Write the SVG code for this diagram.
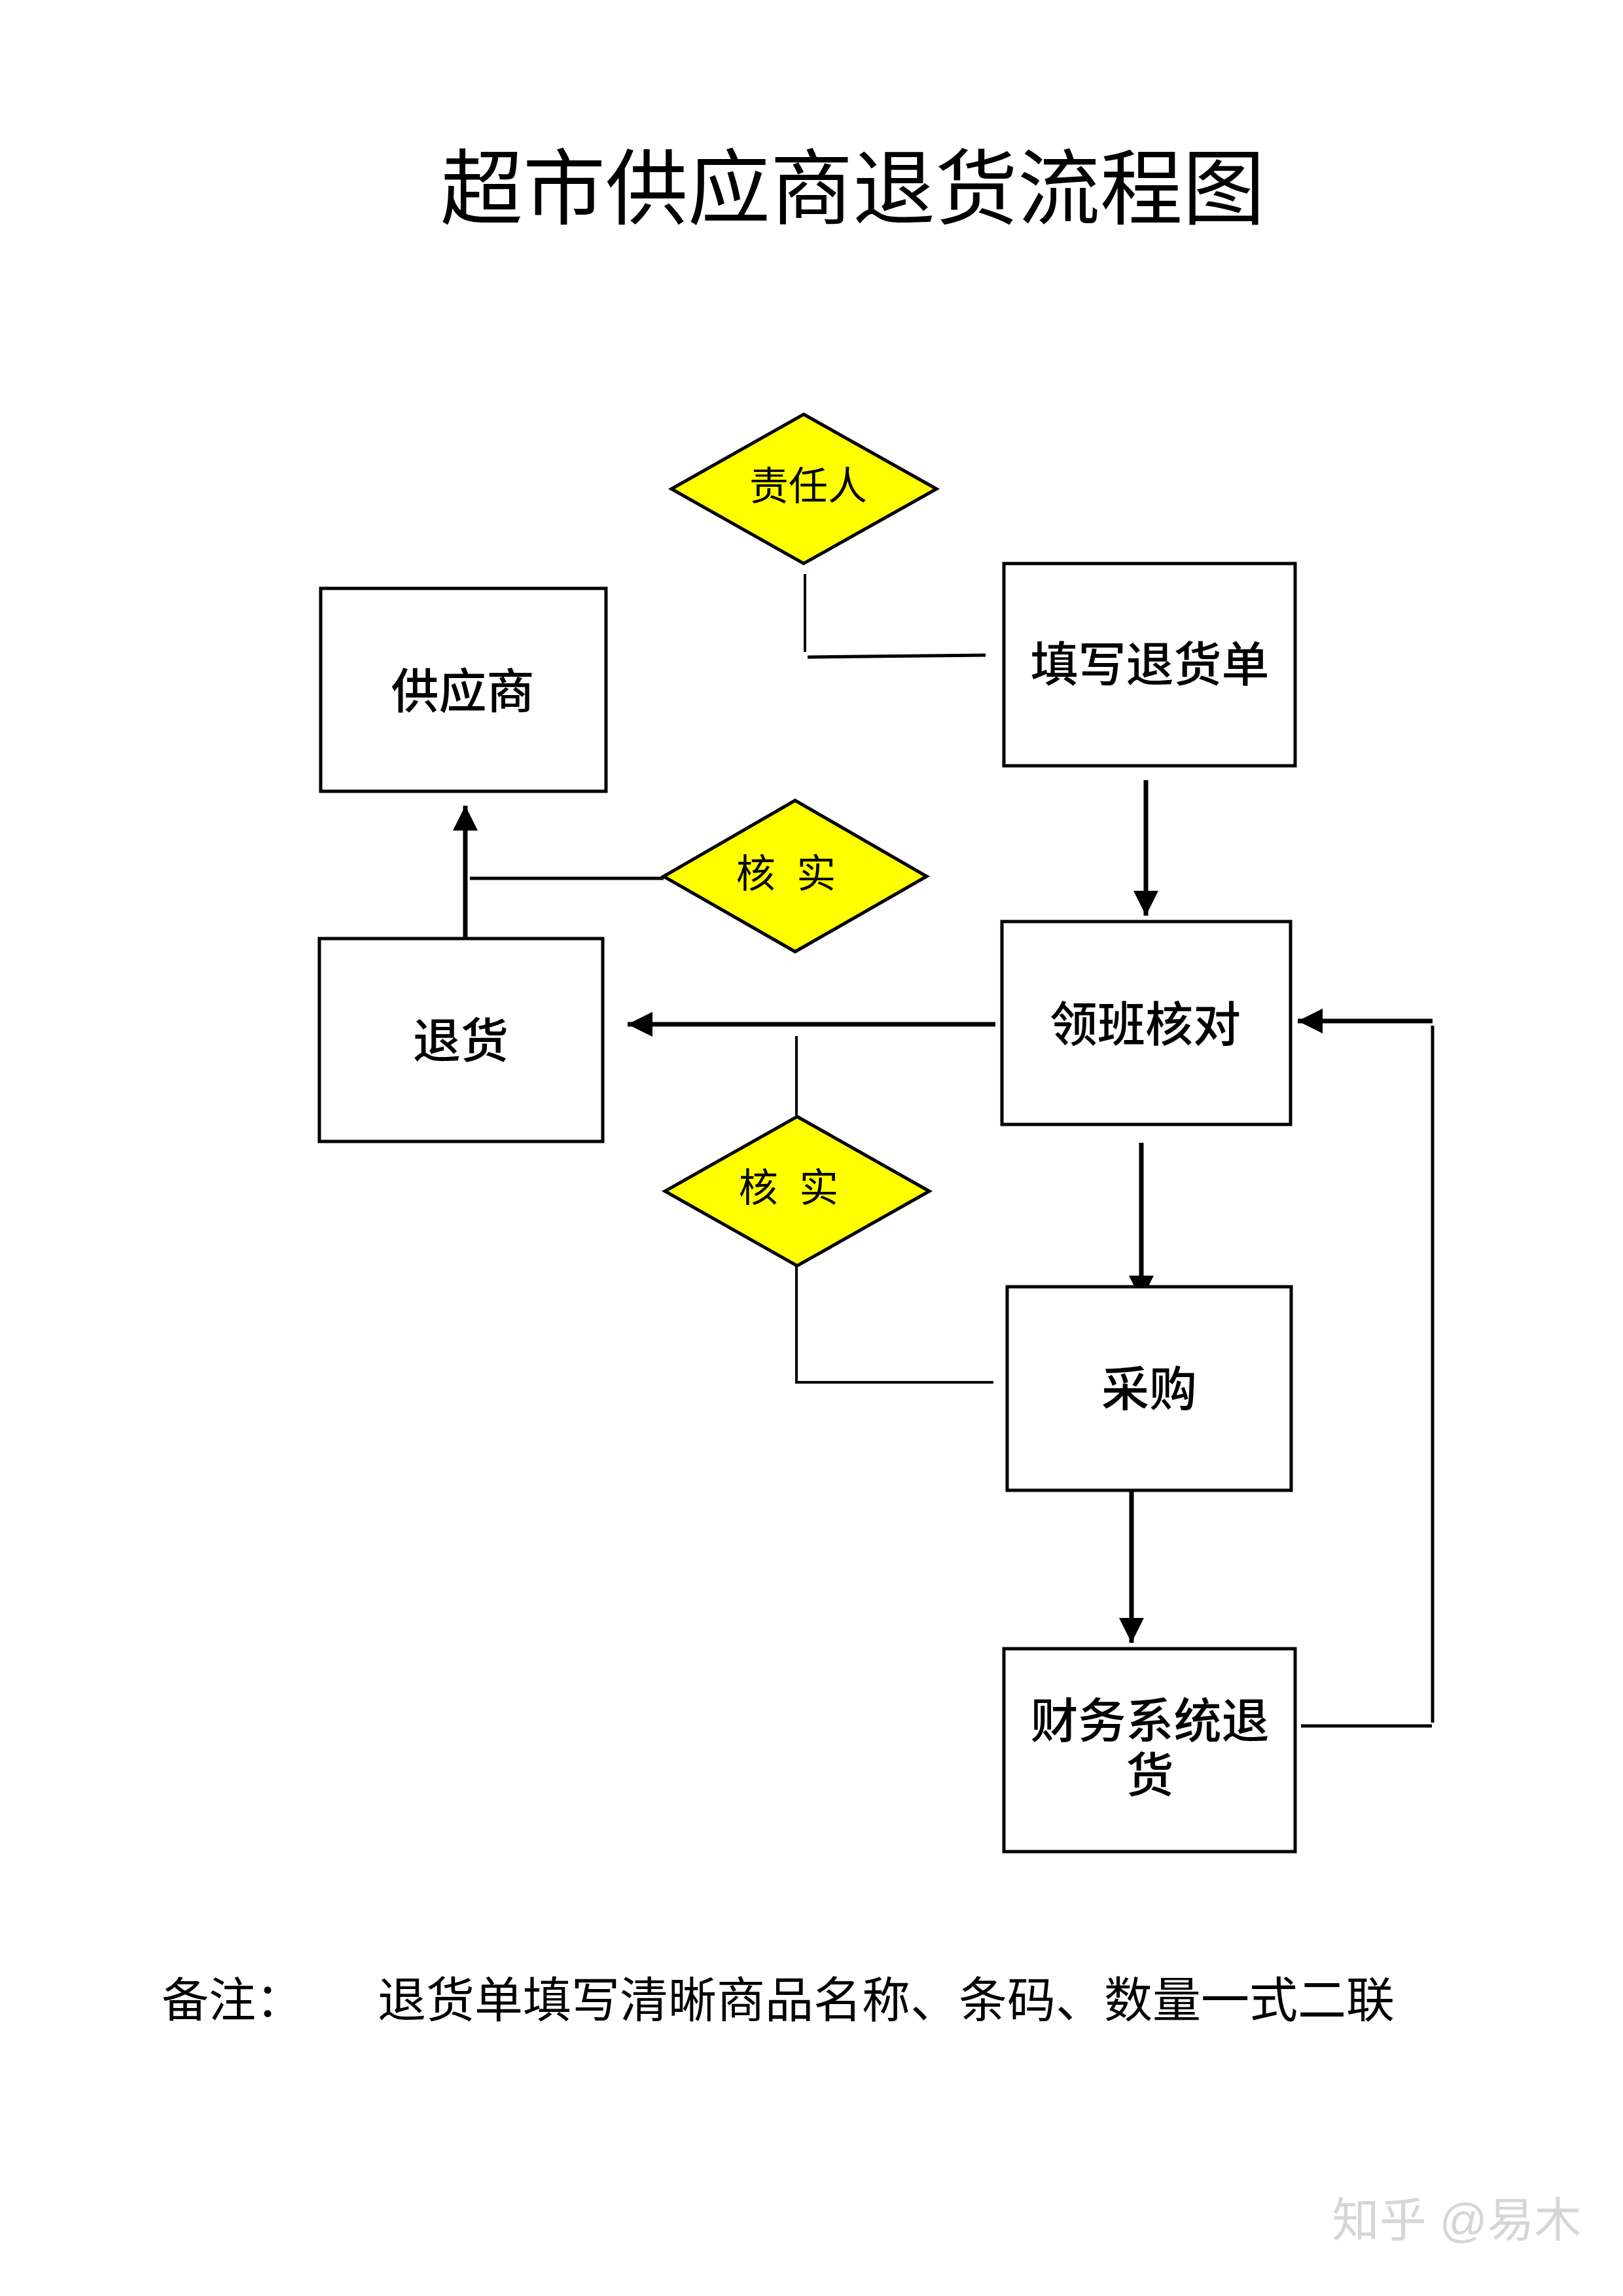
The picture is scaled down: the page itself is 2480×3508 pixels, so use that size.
<svg xmlns="http://www.w3.org/2000/svg" width="2480" height="3508" viewBox="0 0 2480 3508">
<style>
.box{fill:#ffffff;stroke:#000000;stroke-width:5}
.dia{fill:#ffff00;stroke:#000000;stroke-width:5;stroke-linejoin:miter}
.t{font-family:"Liberation Sans","Noto Sans CJK SC",sans-serif;fill:#000000;text-anchor:middle;dominant-baseline:central}
.lbl{font-size:73px;font-weight:500}
.dl{font-size:60px;font-weight:400}
.ln{fill:none;stroke:#000000}
.thin{stroke-width:4}
.mid{stroke-width:5}
.thick{stroke-width:7}
</style>
<defs>
<marker id="ah" viewBox="0 0 10 10" refX="10" refY="5" markerUnits="userSpaceOnUse" markerWidth="38" markerHeight="38" orient="auto">
<path d="M0,0 L10,5 L0,10 Z" fill="#000000"/>
</marker>
</defs>
<rect x="0" y="0" width="2480" height="3508" fill="#ffffff"/>
<text class="t" x="1303" y="289" font-size="126" font-weight="400">超市供应商退货流程图</text>

<g id="connectors">
<polyline class="ln thin" points="1230,877 1230,996"/>
<polyline class="ln mid" points="1234,1004 1506,1001"/>
<line class="ln thick" x1="1751" y1="1192" x2="1751" y2="1399" marker-end="url(#ah)"/>
<line class="ln thick" x1="1521" y1="1565" x2="959" y2="1565" marker-end="url(#ah)"/>
<line class="ln thick" x1="711" y1="1437" x2="711" y2="1231" marker-end="url(#ah)"/>
<polyline class="ln mid" points="1014,1342 718,1342"/>
<polyline class="ln thin" points="1217,1583 1217,1706"/>
<polyline class="ln thin" points="1217,1934 1217,2112 1518,2112"/>
<line class="ln thick" x1="1744" y1="1746" x2="1744" y2="1987" marker-end="url(#ah)"/>
<line class="ln thick" x1="1729" y1="2278" x2="1729" y2="2510" marker-end="url(#ah)"/>
<polyline class="ln mid" points="1988,2637 2188,2637"/>
<polyline class="ln mid" points="2189,2632 2189,1567"/>
<line class="ln thick" x1="2189" y1="1560" x2="1983" y2="1560" marker-end="url(#ah)"/>
</g>

<g id="node-zerenren">
<polygon class="dia" points="1228,633 1431,747 1228,861 1026,747"/>
<text class="t dl" x="1235" y="743">责任人</text>
</g>
<g id="node-tianxie">
<rect class="box" x="1534" y="861" width="445" height="309"/>
<text class="t lbl" x="1757" y="1015">填写退货单</text>
</g>
<g id="node-gongyingshang">
<rect class="box" x="490" y="899" width="436" height="310"/>
<text class="t lbl" x="707" y="1056">供应商</text>
</g>
<g id="node-heshi1">
<polygon class="dia" points="1215,1223 1416,1339 1215,1454 1014,1339"/>
<text class="t dl" x="1205" y="1335" xml:space="preserve" letter-spacing="8">核 实</text>
</g>
<g id="node-tuihuo">
<rect class="box" x="488" y="1434" width="433" height="310"/>
<text class="t lbl" x="704" y="1590">退货</text>
</g>
<g id="node-lingban">
<rect class="box" x="1531" y="1408" width="441" height="310"/>
<text class="t lbl" x="1750" y="1565">领班核对</text>
</g>
<g id="node-heshi2">
<polygon class="dia" points="1218,1706 1420,1820 1218,1934 1016,1820"/>
<text class="t dl" x="1209" y="1815" xml:space="preserve" letter-spacing="8">核 实</text>
</g>
<g id="node-caigou">
<rect class="box" x="1539" y="1966" width="434" height="311"/>
<text class="t lbl" x="1756" y="2122">采购</text>
</g>
<g id="node-caiwu">
<rect class="box" x="1534" y="2519" width="445" height="310"/>
<text class="t lbl" x="1757" y="2629">财务系统退</text>
<text class="t lbl" x="1757" y="2712">货</text>
</g>

<g id="note">
<text x="247" y="3057" font-family="Liberation Serif,'Noto Sans CJK SC',serif" font-size="72" dominant-baseline="central" fill="#000000">备注：</text>
<text x="577" y="3057" font-family="Liberation Serif,'Noto Sans CJK SC',serif" font-size="74" dominant-baseline="central" fill="#000000">退货单填写清晰商品名称、条码、数量一式二联</text>
</g>
<text x="2226" y="3392" font-family="Liberation Sans,'Noto Sans CJK SC',sans-serif" font-size="72" text-anchor="middle" dominant-baseline="central" fill="#d6d6d6">知乎 @易木</text>
</svg>
